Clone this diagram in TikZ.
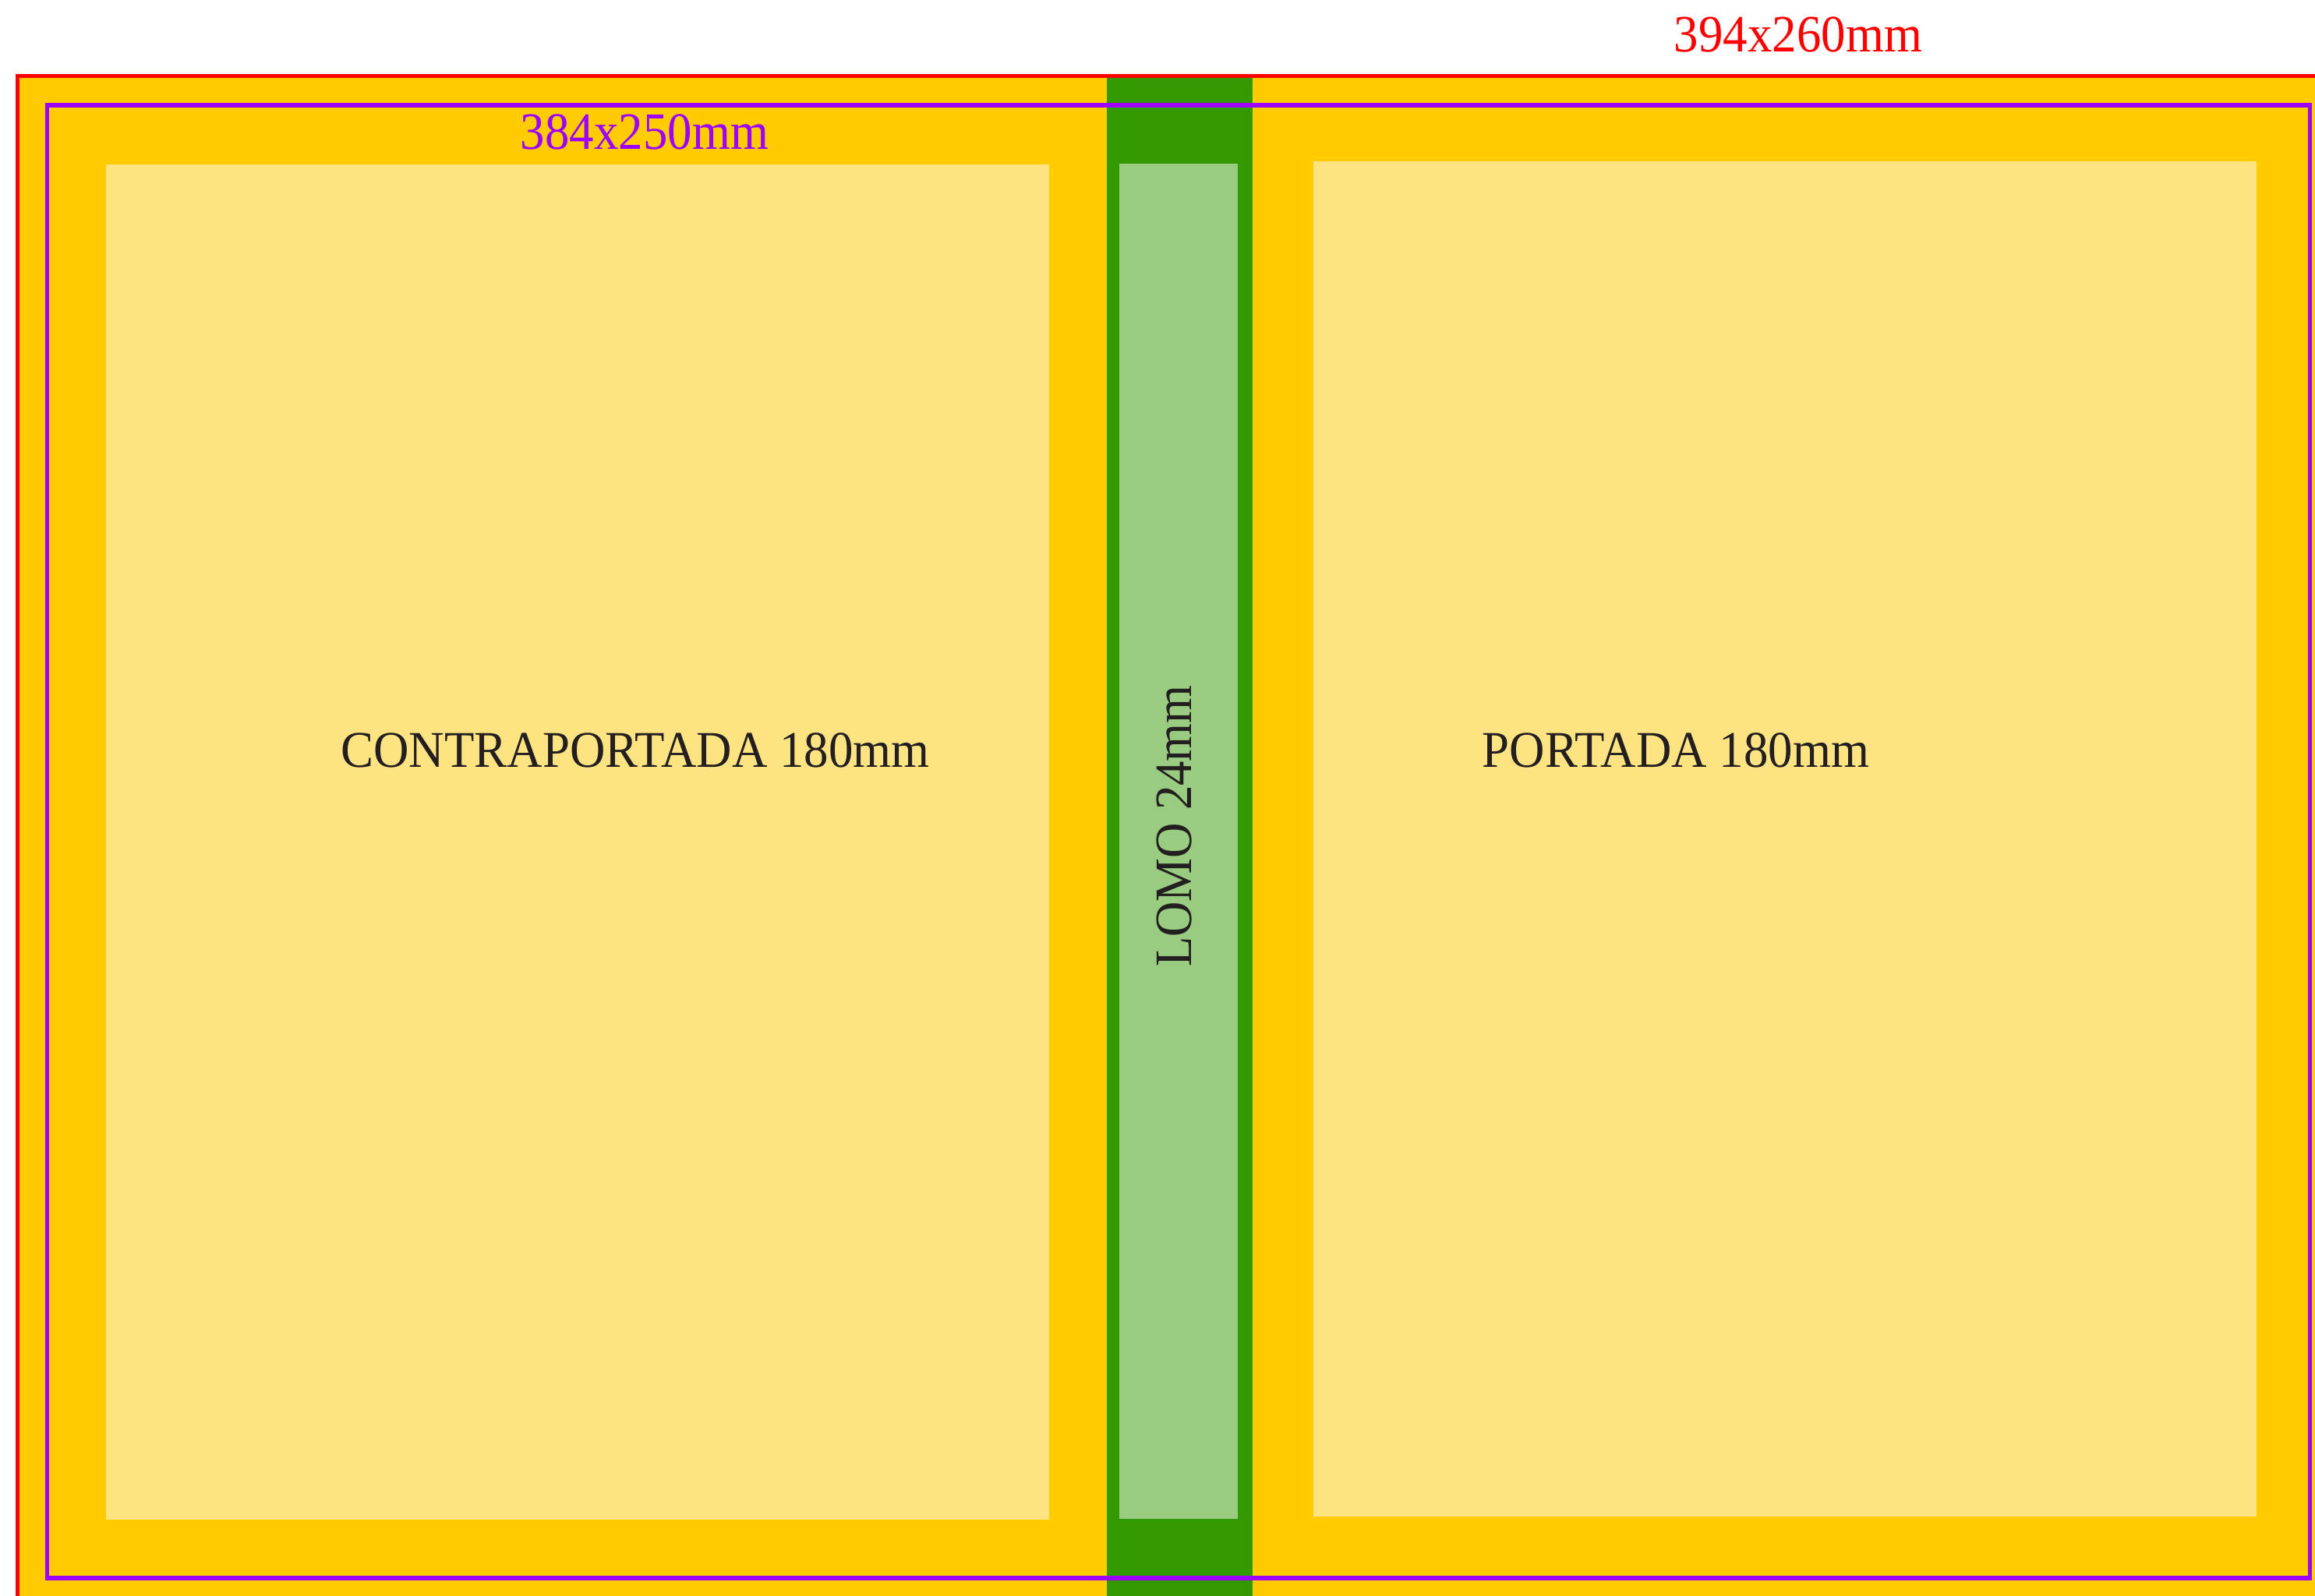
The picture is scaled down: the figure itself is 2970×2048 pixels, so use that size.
\documentclass[tikz,border=0pt]{standalone}
\usepackage{fontspec}
\setmainfont{Liberation Serif}
\definecolor{cyellow}{HTML}{FFCC00}
\definecolor{clight}{HTML}{FDE382}
\definecolor{cgreen}{HTML}{339900}
\definecolor{clgreen}{HTML}{99CB80}
\definecolor{cred}{HTML}{FF0000}
\definecolor{cpurple}{HTML}{9D00FF}
\definecolor{ctext}{HTML}{231F20}
\tikzset{
  lbl/.style={inner sep=0pt, anchor=base, font=\fontsize{17.9pt}{20pt}\selectfont},
}
\begin{document}
\begin{tikzpicture}[x=0.1mm,y=-0.1mm]
\useasboundingbox (0,0) rectangle (2970,2048);
\clip (0,0) rectangle (2970,2048);
\fill[white] (0,0) rectangle (2970,2048);
% full sheet
\fill[cyellow] (22.5,97.5) rectangle (2990,2070);
% spine
\fill[cgreen] (1420,97.5) rectangle (1607,2070);
% panels
\fill[clight] (136,211) rectangle (1346,1950);
\fill[clgreen] (1436,210) rectangle (1588,1949);
\fill[clight] (1685,207) rectangle (2895,1946);
% outlines
\draw[cred, line width=0.5mm] (22.5,97.5) rectangle (2990,2070);
\draw[cpurple, line width=0.55mm] (60.5,135) rectangle (2963.5,2025);
% labels
\node[lbl, text=cred, yscale=1.07] (outer) at (2307,67) {394x260mm};
\node[lbl, text=cpurple, yscale=1.07] (inner) at (827,192) {384x250mm};
\node[lbl, text=ctext, yscale=1.05] (back) at (815,984) {CONTRAPORTADA 180mm};
\node[lbl, text=ctext, yscale=1.05] (front) at (2150,984) {PORTADA 180mm};
\node[lbl, text=ctext, rotate=90, yscale=1.07] (spine) at (1528,1060) {LOMO 24mm};
\end{tikzpicture}
\end{document}
